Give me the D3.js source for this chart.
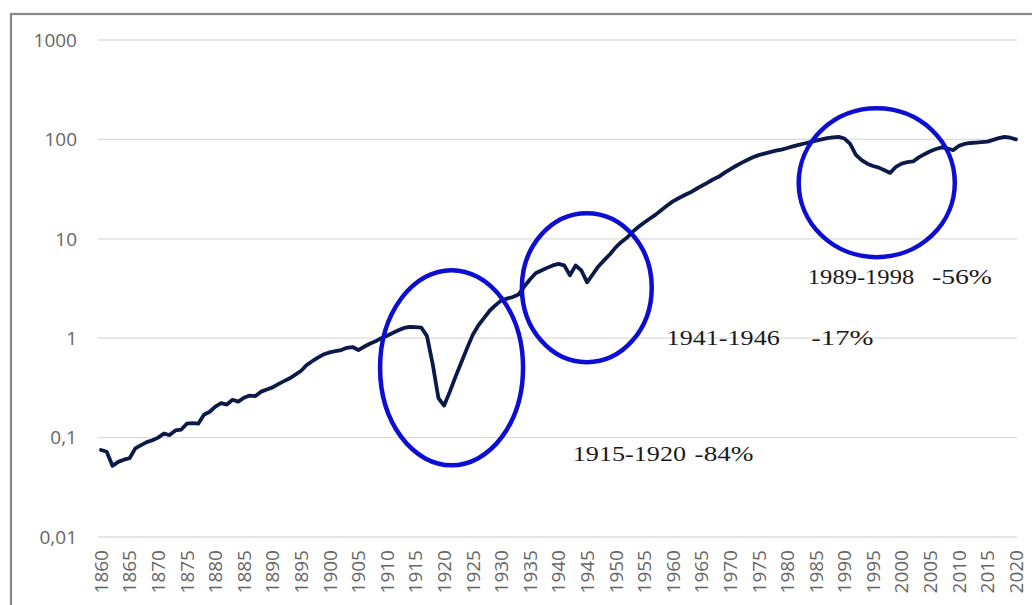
<!DOCTYPE html>
<html lang="fr">
<head>
  <meta charset="UTF-8">
  <title>Indice 1860-2020</title>
  <style>
    body { margin: 0; background: white; }
    svg { display: block; }
    .grid line { stroke: #dcdcdc; stroke-width: 1.3px; }
    .tick-label { font-family: "Open Sans", sans-serif; font-size: 19px; fill: #666; }
    .note { font-family: "Liberation Serif", "Times New Roman", serif; font-size: 22px; fill: #1a1a1a; }
  </style>
</head>
<body>
<svg width="1032" height="605"></svg>

<script src="https://d3js.org/d3.v7.min.js"></script>
<script>
  // Données (échelle log)
  const years = d3.range(1860, 2021);
  const values = [
    0.075, 0.072, 0.052, 0.057, 0.060, 0.062, 0.078, 0.084, 0.090, 0.094,   // 1860
    0.100, 0.110, 0.106, 0.118, 0.120, 0.138, 0.140, 0.138, 0.170, 0.182,   // 1870
    0.205, 0.222, 0.215, 0.240, 0.230, 0.252, 0.265, 0.262, 0.290, 0.305,   // 1880
    0.320, 0.345, 0.370, 0.395, 0.430, 0.470, 0.540, 0.590, 0.640, 0.690,   // 1890
    0.720, 0.740, 0.760, 0.800, 0.815, 0.760, 0.820, 0.880, 0.930, 1.000,   // 1900
    1.060, 1.130, 1.200, 1.270, 1.300, 1.290, 1.280, 1.050, 0.550, 0.250,   // 1910
    0.210, 0.290, 0.410, 0.570, 0.790, 1.080, 1.350, 1.600, 1.900, 2.150,   // 1920
    2.400, 2.500, 2.600, 2.750, 3.300, 3.900, 4.500, 4.800, 5.100, 5.400,   // 1930
    5.600, 5.400, 4.300, 5.400, 4.800, 3.650, 4.400, 5.300, 6.100, 7.000,   // 1940
    8.200, 9.300, 10.3, 11.8, 13.2, 14.6, 16.0, 17.5, 19.5, 21.6,           // 1950
    23.8, 25.6, 27.4, 29.2, 31.5, 34.0, 36.5, 39.5, 42.0, 46.0,             // 1960
    50.0, 54.0, 58.0, 62.0, 66.0, 69.5, 72.0, 74.5, 77.0, 79.0,             // 1970
    82.0, 85.0, 88.0, 91.0, 94.0, 97.0, 100, 103, 105, 106,                 // 1980
    102, 90, 70, 62, 57, 54, 52, 49, 46, 53,                                // 1990
    57, 59, 60, 66, 71, 76, 80, 83, 81, 78,                                 // 2000
    86, 90, 92, 93, 94, 95, 99, 103, 106, 104,                              // 2010
    100                                                                     // 2020
  ];
  const yTicks = [1000, 100, 10, 1, 0.1, 0.01];
  const yTickLabels = ["1000", "100", "10", "1", "0,1", "0,01"];
  const xTicks = d3.range(1860, 2021, 5);

  // cercles : [annee min, annee max, valeur basse, valeur haute]
  const circles = [
    [1908.8, 1933.8, 0.0527, 4.83],
    [1933.6, 1956.3, 0.574, 18.1],
    [1982.0, 2009.3, 6.53, 206]
  ];
  // textes : [texte, annee, valeur, largeur en annees]
  const notes = [
    ["1915-1920", 1942.5, 0.058, 19.8],
    ["-84%", 1963.8, 0.058, 10.3],
    ["1941-1946", 1958.9, 0.85, 19.8],
    ["-17%", 1984.2, 0.85, 10.9],
    ["1989-1998", 1983.6, 3.49, 18.6],
    ["-56%", 2005.3, 3.49, 10.5]
  ];

  const svg = d3.select("svg");

  const x = d3.scaleLinear().domain([1860, 2020]).range([101, 1016]);
  const y = d3.scaleLog().domain([0.01, 1000]).range([537, 40]);

  // cadre
  svg.append("rect")
    .attr("x", 11)
    .attr("y", 14)
    .attr("width", 1040)
    .attr("height", 620)
    .attr("fill", "white")
    .attr("stroke", "#8a8a8a")
    .attr("stroke-width", 2.2);

  // grille horizontale
  svg.append("g")
    .attr("class", "grid")
    .selectAll("line")
    .data(yTicks)
    .join("line")
    .attr("x1", x(1860) - 3)
    .attr("x2", x(2020) + 1)
    .attr("y1", d => y(d))
    .attr("y2", d => y(d));

  // labels axe Y
  svg.append("g")
    .selectAll("text")
    .data(yTicks)
    .join("text")
    .attr("class", "tick-label")
    .attr("x", 77)
    .attr("y", d => y(d))
    .attr("dy", "0.36em")
    .attr("text-anchor", "end")
    .text((d, i) => yTickLabels[i]);

  // labels axe X (verticaux)
  svg.append("g")
    .selectAll("text")
    .data(xTicks)
    .join("text")
    .attr("class", "tick-label")
    .attr("transform", d => `translate(${x(d)},550) rotate(-90)`)
    .attr("dy", "0.36em")
    .attr("text-anchor", "end")
    .text(d => d);

  // la courbe
  const line = d3.line()
    .x((d, i) => x(years[i]))
    .y(d => y(d));

  svg.append("path")
    .datum(values)
    .attr("d", line)
    .attr("fill", "none")
    .attr("stroke", "#0c1a4a")
    .attr("stroke-width", 3.8)
    .attr("stroke-linejoin", "round")
    .attr("stroke-linecap", "round");

  // cercles bleus
  svg.append("g")
    .selectAll("ellipse")
    .data(circles)
    .join("ellipse")
    .attr("cx", d => (x(d[0]) + x(d[1])) / 2)
    .attr("cy", d => (y(d[2]) + y(d[3])) / 2)
    .attr("rx", d => (x(d[1]) - x(d[0])) / 2)
    .attr("ry", d => (y(d[2]) - y(d[3])) / 2)
    .attr("fill", "none")
    .attr("stroke", "#0d0dd4")
    .attr("stroke-width", 4.5);

  // annotations
  svg.append("g")
    .selectAll("text")
    .data(notes)
    .join("text")
    .attr("class", "note")
    .attr("x", d => x(d[1]))
    .attr("y", d => y(d[2]))
    .attr("textLength", d => x(d[1] + d[3]) - x(d[1]))
    .attr("lengthAdjust", "spacingAndGlyphs")
    .text(d => d[0]);
</script>
</body>
</html>
